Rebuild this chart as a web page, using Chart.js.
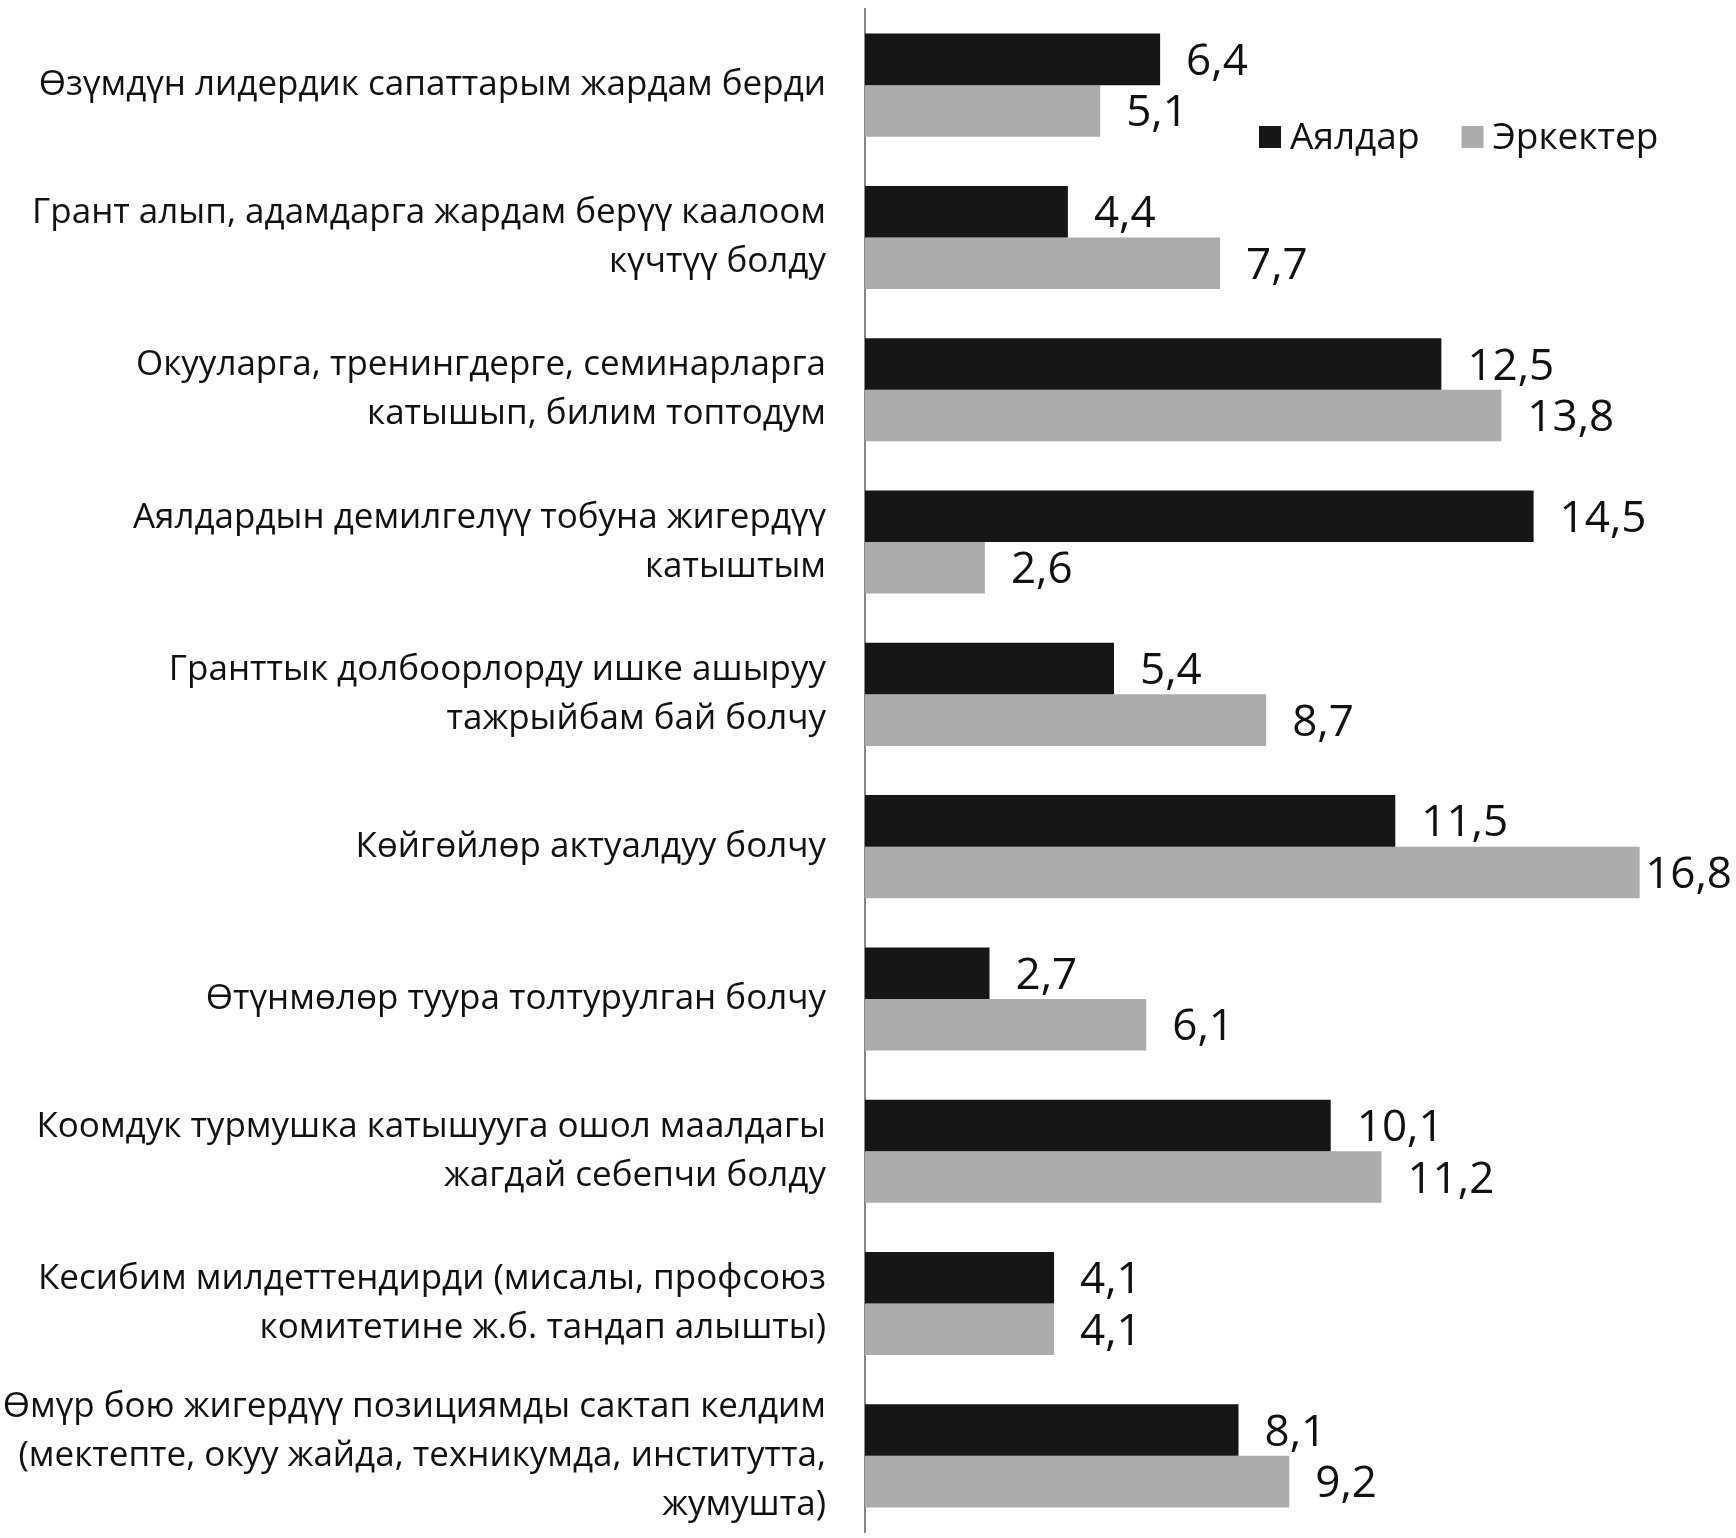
<!DOCTYPE html>
<html>
<head>
<meta charset="utf-8">
<script src="https://cdn.jsdelivr.net/npm/chart.js@4"></script>
<style>
    html, body { margin: 0; padding: 0; background: #fff; }
    #wrap { width: 1736px; height: 1538px; }
</style>
</head>
<body>
<div id="wrap"><canvas id="chart" width="1736" height="1538"></canvas></div>
<script>
// Chart data
var categories = [
    "Өзүмдүн лидердик сапаттарым жардам берди",
    ["Грант алып, адамдарга жардам берүү каалоом", "күчтүү болду"],
    ["Окууларга, тренингдерге, семинарларга", "катышып, билим топтодум"],
    ["Аялдардын демилгелүү тобуна жигердүү", "катыштым"],
    ["Гранттык долбоорлорду ишке ашыруу", "тажрыйбам бай болчу"],
    "Көйгөйлөр актуалдуу болчу",
    "Өтүнмөлөр туура толтурулган болчу",
    ["Коомдук турмушка катышууга ошол маалдагы", "жагдай себепчи болду"],
    ["Кесибим милдеттендирди (мисалы, профсоюз", "комитетине ж.б. тандап алышты)"],
    ["Өмүр бою жигердүү позициямды сактап келдим", "(мектепте, окуу жайда, техникумда, институтта,", "жумушта)"]
];
var seriesNames = ["Аялдар", "Эркектер"];
var womenValues = [6.4, 4.4, 12.5, 14.5, 5.4, 11.5, 2.7, 10.1, 4.1, 8.1];
var menValues = [5.1, 7.7, 13.8, 2.6, 8.7, 16.8, 6.1, 11.2, 4.1, 9.2];

var FONT = "'Open Sans', 'DejaVu Sans', sans-serif";

function formatValue(v) {
    return v.toFixed(1).replace(".", ",");
}

// value labels to the right of every bar, kept inside the canvas
var valueLabels = {
    id: "valueLabels",
    afterDatasetsDraw: function (chart) {
        var ctx = chart.ctx;
        ctx.save();
        ctx.font = "44px " + FONT;
        ctx.fillStyle = "#111";
        ctx.textBaseline = "middle";
        ctx.textAlign = "left";
        chart.data.datasets.forEach(function (ds, di) {
            var meta = chart.getDatasetMeta(di);
            meta.data.forEach(function (bar, i) {
                var text = formatValue(ds.data[i]);
                var w = ctx.measureText(text).width;
                var x = bar.x + 26;
                if (x + w > chart.width - 4) x = chart.width - 4 - w;
                ctx.fillText(text, x, bar.y + 3);
            });
        });
        ctx.restore();
    }
};

// legend floating inside the plot, top right
var floatLegend = {
    id: "floatLegend",
    afterDraw: function (chart) {
        var ctx = chart.ctx;
        var x = 1259, y = 137, box = 22;
        ctx.save();
        ctx.font = "37px " + FONT;
        ctx.textBaseline = "middle";
        chart.data.datasets.forEach(function (ds) {
            ctx.fillStyle = ds.backgroundColor;
            ctx.fillRect(x, y - box / 2, box, box);
            ctx.fillStyle = "#111";
            ctx.fillText(ds.label, x + box + 9, y + 1);
            x += box + 9 + ctx.measureText(ds.label).width + 42;
        });
        ctx.restore();
    }
};

new Chart(document.getElementById("chart"), {
    type: "bar",
    data: {
        labels: categories,
        datasets: [
            { label: seriesNames[0], data: womenValues, backgroundColor: "#161616", borderWidth: 0 },
            { label: seriesNames[1], data: menValues, backgroundColor: "#acacac", borderWidth: 0 }
        ]
    },
    options: {
        indexAxis: "y",
        responsive: false,
        animation: false,
        devicePixelRatio: 1,
        layout: { padding: { top: 9, bottom: 6, left: 0, right: 41 } },
        datasets: { bar: { categoryPercentage: 0.677, barPercentage: 1 } },
        plugins: { legend: { display: false }, tooltip: { enabled: false } },
        scales: {
            x: { display: false, min: 0, max: 18 },
            y: {
                grid: { display: false, drawTicks: false },
                border: { display: true, color: "#868686", width: 2 },
                ticks: {
                    color: "#111",
                    padding: 39,
                    font: { family: FONT, size: 35, lineHeight: 1.4 }
                },
                afterFit: function (scale) {
                    scale.width = 865;
                    scale.paddingTop = 0;
                    scale.paddingBottom = 0;
                }
            }
        }
    },
    plugins: [valueLabels, floatLegend]
});
</script>
</body>
</html>
